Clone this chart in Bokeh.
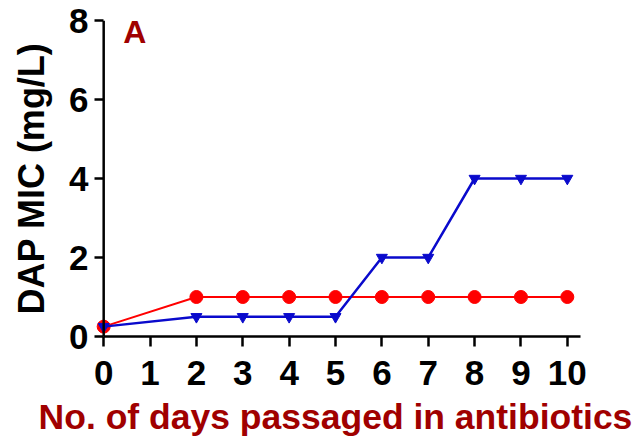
from bokeh.plotting import figure
from bokeh.models import Range1d, Label, FixedTicker, Span
from bokeh.embed import file_html
from bokeh.resources import INLINE

# Data
days_red = [0, 2, 3, 4, 5, 6, 7, 8, 9, 10]
mic_red = [0.25, 1, 1, 1, 1, 1, 1, 1, 1, 1]
days_blue = [0, 2, 3, 4, 5, 6, 7, 8, 9, 10]
mic_blue = [0.25, 0.5, 0.5, 0.5, 0.5, 2, 2, 4, 4, 4]
x_ticks = [0, 1, 2, 3, 4, 5, 6, 7, 8, 9, 10]
y_ticks = [0, 2, 4, 6, 8]

FONT = "Liberation Sans"

p = figure(width=636, height=439, output_backend="svg", toolbar_location=None,
           x_range=Range1d(-0.5, 10.5), y_range=Range1d(0, 8),
           min_border_left=80, min_border_right=46, min_border_top=20, min_border_bottom=103)
p.outline_line_color = None
p.grid.visible = False
p.background_fill_color = "white"
p.border_fill_color = "white"

# y axis line at x = 0
p.add_layout(Span(location=0, dimension="height", line_color="black", line_width=2.5))

# Lines
p.line(days_red, mic_red, line_color="#ff0000", line_width=2)
p.scatter(days_red, mic_red, marker="circle", size=13, fill_color="#ff0000", line_color="#ff0000")
p.line(days_blue, mic_blue, line_color="#0a0acc", line_width=2.5)
p.scatter(days_blue, mic_blue, marker="inverted_triangle", size=11, fill_color="#0a0acc", line_color="#0a0acc")

# Axes
for ax in (p.xaxis[0], p.yaxis[0]):
    ax.axis_line_width = 2.5
    ax.axis_line_color = "black"
    ax.major_tick_line_width = 2.5
    ax.major_tick_line_color = "black"
    ax.minor_tick_line_color = None
    ax.minor_tick_out = 0
    ax.minor_tick_in = 0
    ax.major_label_text_font = FONT
    ax.major_label_text_font_style = "bold"
    ax.major_label_text_font_size = "35px"
    ax.major_label_text_color = "black"
    ax.axis_label_text_font = FONT
    ax.axis_label_text_font_style = "bold"

p.xaxis.ticker = FixedTicker(ticks=x_ticks)
p.xaxis.bounds = (0, 10.28)
p.xaxis.major_tick_in = 0
p.xaxis.major_tick_out = 10
p.xaxis.major_label_standoff = 14
p.xaxis.axis_label = "No. of days passaged in antibiotics"
p.xaxis.axis_label_text_color = "#a00000"
p.xaxis.axis_label_text_font_size = "35.5px"
p.xaxis.axis_label_standoff = 9

p.yaxis.ticker = FixedTicker(ticks=y_ticks)
p.yaxis.axis_line_color = None
p.yaxis.major_tick_in = 23
p.yaxis.major_tick_out = -14
p.yaxis.major_label_standoff = -8
p.yaxis.axis_label = "DAP MIC (mg/L)"
p.yaxis.axis_label_text_color = "black"
p.yaxis.axis_label_text_font_size = "36px"
p.yaxis.axis_label_standoff = 14

p.add_layout(Label(x=0.42, y=7.72, text="A",
                   text_font=FONT, text_font_style="bold", text_font_size="32px",
                   text_color="#a00000", text_align="left", text_baseline="middle"))

open("out.html", "w").write(file_html(p, INLINE))
